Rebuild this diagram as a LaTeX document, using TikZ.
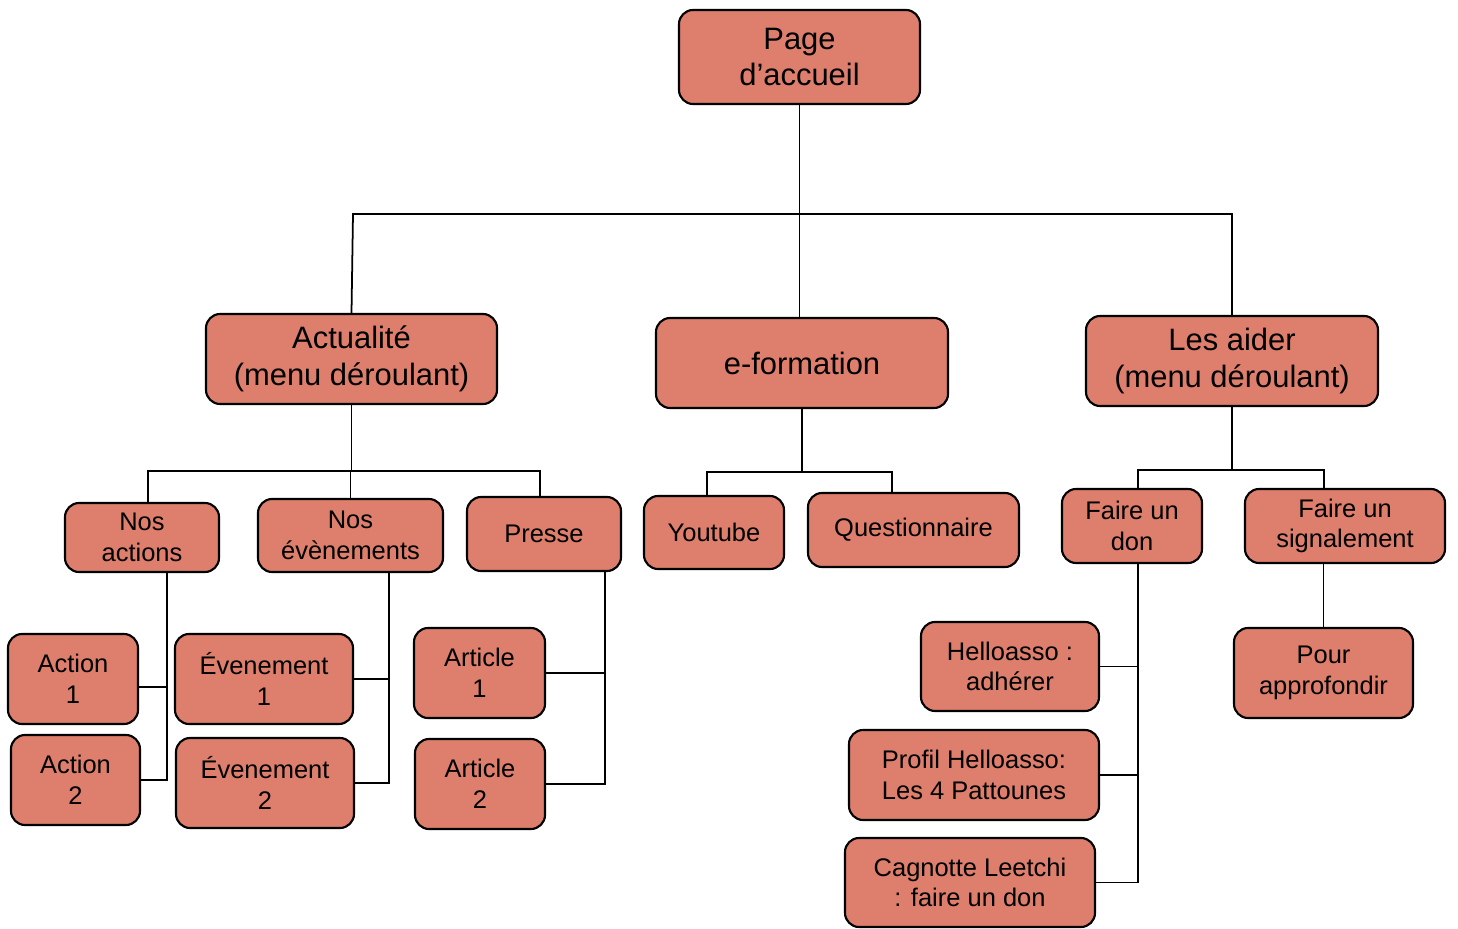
\documentclass[tikz,border=0pt]{standalone}
\usepackage{fontspec}
\setmainfont{Liberation Sans}
\usepackage{tikz}
\usetikzlibrary{positioning}
\definecolor{boxred}{HTML}{DE7E6C}
\tikzstyle{page}=[rectangle,rounded corners=8pt,draw=black,line width=1.2pt,fill=boxred,align=center,inner sep=0pt]
\tikzstyle{bigfont}=[font=\fontsize{17.6}{21}\selectfont]
\tikzstyle{smallfont}=[font=\fontsize{14.5}{17.5}\selectfont]
\tikzstyle{link} = [draw,line width=1pt]

\begin{document}
\begin{tikzpicture}[x=0.02cm,y=-0.02cm]

  \def\u{0.02};
  \useasboundingbox (0,0) rectangle (1458,929);

   % first two levels
   \foreach \x/\y/\w/\h/\name/\label in {799.5/57/241/94/root/{Page\\d’accueil}, 351.5/359/291/90/actu/{Actualité\\(menu déroulant)}, 802/363/292/90/eform/{e-formation}, 1232/361/292/90/aider/{Les aider\\(menu déroulant)}}
          \node[page,bigfont,minimum width=\w*\u cm,minimum height=\h*\u cm] (\name) at (\x,\y) {\label};

   % sub menus
   \foreach \x/\y/\w/\h/\name/\label in {142/537.5/154/69/nosact/{Nos\\actions}, 350.5/535.5/185/73/nosev/{Nos\\évènements}, 544/534/154/74/presse/{Presse}, 714/532.5/140/73/youtube/{Youtube}, 913.5/530/211/74/quest/{Questionnaire}, 1132/526/140/74/don/{Faire un\\don}, 1345/526/200/74/signal/{Faire un\\signalement}}
          \node[page,smallfont,minimum width=\w*\u cm,minimum height=\h*\u cm] (\name) at (\x,\y) {\label};

   % pages
   \foreach \x/\y/\w/\h/\name/\label in {73/679/130/90/act1/{Action\\1}, 75.5/780/129/90/act2/{Action\\2}, 264/679/178/90/ev1/{Évenement\\1}, 265/783/178/90/ev2/{Évenement\\2}, 479.5/673/131/90/art1/{Article\\1}, 480/784/130/90/art2/{Article\\2}}
          \node[page,smallfont,minimum width=\w*\u cm,minimum height=\h*\u cm] (\name) at (\x,\y) {\label};

   \foreach \x/\y/\w/\h/\name/\label in {1010/666.5/178/89/hello/{Helloasso :\\adhérer}, 974/775/250/90/profil/{Profil Helloasso:\\Les 4 Pattounes}, 970/882.5/250/89/cagn/{Cagnotte Leetchi\\: faire un don}, 1323.5/673/179/90/pour/{Pour\\approfondir}}
          \node[page,smallfont,minimum width=\w*\u cm,minimum height=\h*\u cm] (\name) at (\x,\y) {\label};

  % tree bars
  \coordinate (dActu) at (353,214);
  \coordinate (dAider) at (1232,214);
  \coordinate (dNa) at (148,471);
  \coordinate (dNe) at (350,471);
  \coordinate (dPr) at (540,471);
  \coordinate (dYt) at (707,472);
  \coordinate (dQu) at (892,472);
  \coordinate (dDon) at (1138,470);
  \coordinate (dSig) at (1324,470);

  \path[link] (root.south) -- (root.south |- eform.north);
  \path[link] (actu.north) -- (dActu) -- (dAider) -- (aider.north);

  \path[link] (actu.south) -- (actu.south |- dNe);
  \path[link] (dNa |- nosact.north) -- (dNa) -- (dPr) -- (dPr |- presse.north);
  \path[link] (nosev.north) -- (nosev.north |- dNe);

  \path[link] (eform.south) -- (eform.south |- dYt);
  \path[link] (dYt |- youtube.north) -- (dYt) -- (dQu) -- (dQu |- quest.north);

  \path[link] (aider.south) -- (aider.south |- dDon);
  \path[link] (dDon |- don.north) -- (dDon) -- (dSig) -- (dSig |- signal.north);

  % side spines
  \coordinate (sa) at (167,572);
  \coordinate (se) at (389,572);
  \coordinate (sp) at (605,571);
  \coordinate (sd) at (1138,563);
  \coordinate (ja) at (167,687);

  \path[link] (sa) -- (sa |- act2.east) -- (act2.east);
  \path[link] (act1.east |- ja) -- (ja);
  \path[link] (se) -- (se |- ev2.east) -- (ev2.east);
  \path[link] (ev1.east) -- (ev1.east -| se);
  \path[link] (sp) -- (sp |- art2.east) -- (art2.east);
  \path[link] (art1.east) -- (art1.east -| sp);
  \path[link] (sd) -- (sd |- cagn.east) -- (cagn.east);
  \path[link] (hello.east) -- (hello.east -| sd);
  \path[link] (profil.east) -- (profil.east -| sd);

  \path[link] (pour.north) -- (pour.north |- signal.south);

\end{tikzpicture}
\end{document}
